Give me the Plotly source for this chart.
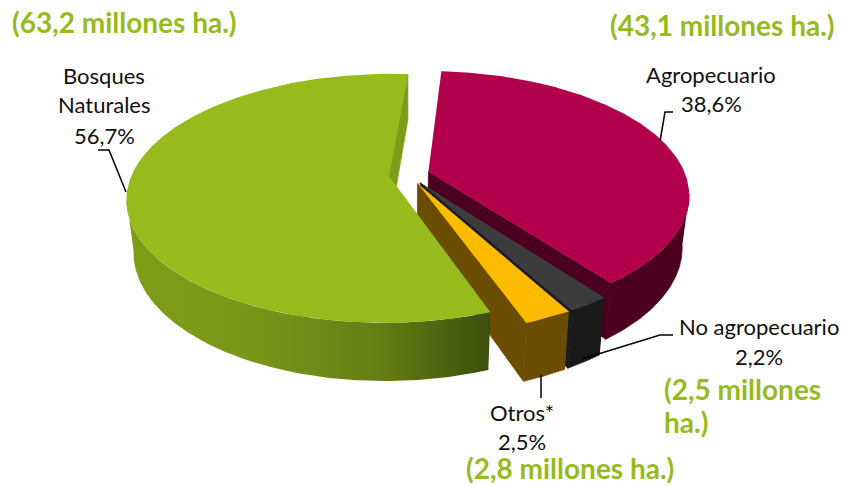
import numpy as np
import plotly.graph_objects as go

# ---- data -------------------------------------------------------------
categories = ["Bosques Naturales", "Agropecuario", "No agropecuario", "Otros*"]
shares = [56.7, 38.6, 2.2, 2.5]
first_boundary_deg = 4.2   # green/magenta boundary, clockwise from 12 o'clock

top_colors = ["#97ba1c", "#b2004c", "#3c3c3c", "#fdbb00"]
wall_colors = ["#7f9c18", "#4b0020", "#1a1a1a", "#6a4d00"]

label_lines = [
    ("Bosques", 104, 75), ("Naturales", 104, 104), ("56,7%", 104, 135),
    ("Agropecuario", 711, 74), ("38,6%", 711, 103),
    ("No agropecuario", 759, 326), ("2,2%", 759, 356),
    ("Otros*", 522, 412), ("2,5%", 522, 441),
]
area_lines = [
    ("(63,2 millones ha.)", 10, 22), ("(43,1 millones ha.)", 608, 25),
    ("(2,5 millones", 662, 389), ("ha.)", 662, 422),
    ("(2,8 millones ha.)", 464, 468),
]
leaders = [
    [(126, 192), (109, 150), (98, 150)],
    [(660, 141), (665, 112), (673, 112)],
    [(582, 359), (660, 335), (673, 335)],
    [(541, 375), (541, 398)],
]

# ---- projection of the tilted disc --------------------------------------
CX, CY = 409.0, 174.5
A, B, P = 257.0, 120.0, 0.18
DEPTH, SHRINK = 52.0, 0.975
EXPLODE = 0.079
FOLD = np.degrees(np.arccos(-P))   # angle where the rim turns out of view


def project(X, Y, bottom=False):
    w = 1 + P * Y
    s = SHRINK if bottom else 1.0
    return CX + s * A * X / w, CY + s * (-B * Y + (DEPTH if bottom else 0)) / w


def slices():
    shares_arr = np.array(shares) / 100 * 360
    total_scale = 360 / shares_arr.sum()
    out = []
    # green runs counter-clockwise from the boundary
    green = shares_arr[0] * total_scale
    out.append((first_boundary_deg - green, first_boundary_deg))
    a = first_boundary_deg
    for i, name in enumerate(categories[1:], 1):
        d = shares_arr[i] * total_scale
        out.append((a, a + d))
        a += d
    return out


def disc(a0, a1):
    th = np.radians(np.linspace(a0, a1, 240))
    return np.sin(th), np.cos(th)


def offset(a0, a1):
    m = np.radians((a0 + a1) / 2)
    return EXPLODE * np.sin(m), EXPLODE * np.cos(m)


def poly(fig, xs, ys, color=None, gradient=None, seam=False):
    kw = dict(x=list(xs), y=list(ys), mode="lines", fill="toself", hoverinfo="skip",
              line=dict(width=0.7 if seam else 0, color=color), showlegend=False)
    if gradient is not None:
        kw["fillgradient"] = gradient
        kw["fillcolor"] = "rgba(0,0,0,0)"
    else:
        kw["fillcolor"] = color
    fig.add_trace(go.Scatter(**kw))


def top_surface(fig, k, rng):
    dx, dy = offset(*rng)
    X, Y = disc(*rng)
    xs = np.r_[dx, X + dx, dx]
    ys = np.r_[dy, Y + dy, dy]
    px, py = project(xs, ys)
    poly(fig, px, py, top_colors[k])


def outer_side(fig, k, rng, arc, gradient=None):
    dx, dy = offset(*rng)
    X, Y = disc(*arc)
    tx, ty = project(X + dx, Y + dy)
    bx, by = project(X + dx, Y + dy, True)
    poly(fig, np.r_[tx, bx[::-1]], np.r_[ty, by[::-1]], wall_colors[k], gradient, seam=gradient is None)


def radial_wall(fig, k, rng, angle):
    dx, dy = offset(*rng)
    t = np.radians(angle)
    ox, oy = np.sin(t) + dx, np.cos(t) + dy
    x0, y0 = project(dx, dy)
    x1, y1 = project(ox, oy)
    x2, y2 = project(ox, oy, True)
    x3, y3 = project(dx, dy, True)
    poly(fig, [x0, x1, x2, x3, x0], [y0, y1, y2, y3, y0], wall_colors[k], seam=True)


fig = go.Figure()
sl = slices()
GREEN, MAG, DARK, YEL = 0, 1, 2, 3

# back to front
outer_side(fig, MAG, sl[MAG], (FOLD, sl[MAG][1]))
radial_wall(fig, MAG, sl[MAG], sl[MAG][1])
top_surface(fig, MAG, sl[MAG])

radial_wall(fig, DARK, sl[DARK], sl[DARK][1])
outer_side(fig, DARK, sl[DARK], sl[DARK])
top_surface(fig, DARK, sl[DARK])

radial_wall(fig, YEL, sl[YEL], sl[YEL][1])
outer_side(fig, YEL, sl[YEL], sl[YEL])
top_surface(fig, YEL, sl[YEL])

radial_wall(fig, GREEN, sl[GREEN], sl[GREEN][1])
outer_side(fig, GREEN, sl[GREEN], (sl[GREEN][0], -FOLD), gradient=dict(
    type="horizontal",
    colorscale=[[0, "#7f9c18"], [0.35, "#7a9618"], [0.7, "#647e14"], [1, "#3c4e0c"]],
))
top_surface(fig, GREEN, sl[GREEN])

shapes = []
for pts in leaders:
    d = "M " + " L ".join(f"{x},{y}" for x, y in pts)
    shapes.append(dict(type="path", path=d, line=dict(color="black", width=1.5), xref="x", yref="y"))

ann = []
for text, x, y in label_lines:
    ann.append(dict(x=x, y=y, text=text, showarrow=False, xanchor="center", yanchor="middle",
                    font=dict(family="Lato", size=22, color="#111111")))
for text, x, y in area_lines:
    ann.append(dict(x=x, y=y, text=f"<b>{text}</b>", showarrow=False, xanchor="left", yanchor="middle",
                    font=dict(family="Lato", size=28, color="#97ba1c")))

fig.update_layout(
    width=842, height=486, autosize=False,
    margin=dict(l=0, r=0, t=0, b=0),
    paper_bgcolor="white", plot_bgcolor="white",
    xaxis=dict(range=[0, 842], visible=False, fixedrange=True),
    yaxis=dict(range=[486, 0], visible=False, fixedrange=True),
    showlegend=False, shapes=shapes, annotations=ann,
)
fig.write_html("out.html", config={"displayModeBar": False},
               post_script="document.body.style.margin='0';document.documentElement.style.overflow='hidden';")
